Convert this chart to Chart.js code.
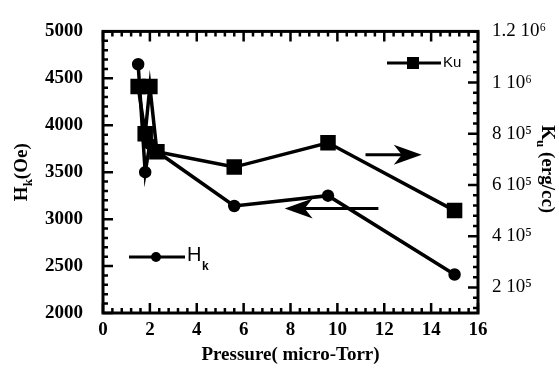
<!DOCTYPE html>
<html>
<head>
<meta charset="utf-8">
<script src="https://cdn.jsdelivr.net/npm/chart.js@4.4.0/dist/chart.umd.min.js"></script>
<style>
  html, body { margin: 0; padding: 0; background: #fff; }
</style>
</head>
<body>
<canvas id="chart" width="559" height="372"></canvas>
<script>
// data
var pressureHk = [1.5, 1.8, 2.0, 2.3, 5.6, 9.6, 15];
var hkValues   = [4650, 3500, 3800, 3720, 3140, 3250, 2410];
var pressureKu = [1.5, 1.8, 2.0, 2.3, 5.6, 9.6, 15];
var kuValues   = [985000, 800000, 985000, 730000, 670000, 765000, 500000];

var xTicks      = [0, 2, 4, 6, 8, 10, 12, 14, 16];
var hkTicks     = [2000, 2500, 3000, 3500, 4000, 4500, 5000];
var kuTicks     = [200000, 400000, 600000, 800000, 1000000, 1200000];
var kuTickLabels = ['2 10\u2075', '4 10\u2075', '6 10\u2075', '8 10\u2075', '1 10\u2076', '1.2 10\u2076'];

var serif = '"Liberation Serif", "Times New Roman", serif';
var sans = '"Liberation Sans", Arial, sans-serif';

function pts(xs, ys) {
  return xs.map(function (x, i) { return { x: x, y: ys[i] }; });
}
function setTicks(values) {
  return function (scale) { scale.ticks = values.map(function (v) { return { value: v }; }); };
}

// frame, inward ticks, arrows, legends, y titles
var decor = {
  id: 'decor',
  afterDraw: function (chart) {
    var ctx = chart.ctx, a = chart.chartArea;
    var sx = chart.scales.x, sy = chart.scales.y, sk = chart.scales.y2;
    ctx.save();
    ctx.strokeStyle = '#000';
    ctx.fillStyle = '#000';
    ctx.lineCap = 'butt';

    // ticks
    ctx.lineWidth = 2.5;
    ctx.beginPath();
    var v, p, major;
    for (v = 0; v <= 16.001; v += 0.4) {
      p = sx.getPixelForValue(v);
      major = Math.abs(v / 2 - Math.round(v / 2)) < 0.01;
      var l = major ? 10 : 5;
      ctx.moveTo(p, a.bottom); ctx.lineTo(p, a.bottom - l);
      ctx.moveTo(p, a.top); ctx.lineTo(p, a.top + l);
    }
    for (v = 2000; v <= 5000; v += 100) {
      p = sy.getPixelForValue(v);
      ctx.moveTo(a.left, p); ctx.lineTo(a.left + (v % 500 === 0 ? 10 : 5), p);
    }
    for (v = 120000; v <= 1200000; v += 40000) {
      p = sk.getPixelForValue(v);
      ctx.moveTo(a.right, p); ctx.lineTo(a.right - (v % 200000 === 0 ? 10 : 5), p);
    }
    ctx.stroke();

    // frame
    ctx.lineWidth = 3;
    ctx.strokeRect(a.left, a.top, a.right - a.left, a.bottom - a.top);

    // arrows
    function arrow(x0, x1, yv) {
      var y = sy.getPixelForValue(yv);
      var p0 = sx.getPixelForValue(x0), p1 = sx.getPixelForValue(x1);
      var dir = p1 > p0 ? 1 : -1;
      ctx.lineWidth = 3;
      ctx.beginPath();
      ctx.moveTo(p0, y); ctx.lineTo(p1 - dir * 10, y);
      ctx.stroke();
      ctx.beginPath();
      ctx.moveTo(p1, y);
      ctx.lineTo(p1 - dir * 28, y - 10);
      ctx.lineTo(p1 - dir * 20, y);
      ctx.lineTo(p1 - dir * 28, y + 10);
      ctx.closePath();
      ctx.fill();
    }
    arrow(11.2, 13.6, 3687);
    arrow(11.75, 7.75, 3114);

    // legend Ku
    ctx.lineWidth = 3;
    ctx.beginPath();
    ctx.moveTo(a.left + 284, 63); ctx.lineTo(a.left + 338, 63);
    ctx.stroke();
    ctx.fillRect(a.left + 304, 57, 12, 12);
    ctx.font = '15px ' + sans;
    ctx.textBaseline = 'middle';
    ctx.textAlign = 'left';
    ctx.fillText('Ku', a.left + 340, 63);

    // legend Hk
    ctx.beginPath();
    ctx.moveTo(a.left + 26, 257); ctx.lineTo(a.left + 82, 257);
    ctx.stroke();
    ctx.beginPath();
    ctx.arc(a.left + 53, 257, 5, 0, Math.PI * 2);
    ctx.fill();
    ctx.font = '20px ' + sans;
    ctx.fillText('H', a.left + 84, 255);
    ctx.font = 'bold 12px ' + sans;
    ctx.fillText('k', a.left + 99, 267);

    // left title H_k(Oe)
    var cy = (a.top + a.bottom) / 2;
    ctx.save();
    ctx.translate(22, cy);
    ctx.rotate(-Math.PI / 2);
    ctx.textBaseline = 'middle';
    ctx.font = 'bold 19px ' + serif;
    var w1 = ctx.measureText('H').width;
    ctx.font = 'bold 13px ' + serif;
    var w2 = ctx.measureText('k').width;
    ctx.font = 'bold 19px ' + serif;
    var w3 = ctx.measureText('(Oe)').width;
    var x0 = -(w1 + w2 + w3) / 2;
    ctx.textAlign = 'left';
    ctx.fillText('H', x0, 0);
    ctx.font = 'bold 13px ' + serif;
    ctx.fillText('k', x0 + w1, 7);
    ctx.font = 'bold 19px ' + serif;
    ctx.fillText('(Oe)', x0 + w1 + w2, 0);
    ctx.restore();

    // right title K_u (erg/cc)
    ctx.save();
    ctx.translate(547, cy - 3);
    ctx.rotate(Math.PI / 2);
    ctx.textBaseline = 'middle';
    ctx.font = 'bold 19px ' + serif;
    var k1 = ctx.measureText('K').width;
    ctx.font = 'bold 13px ' + serif;
    var k2 = ctx.measureText('u').width;
    ctx.font = 'bold 19px ' + serif;
    var k3 = ctx.measureText(' (erg/cc)').width;
    var s0 = -(k1 + k2 + k3) / 2;
    ctx.textAlign = 'left';
    ctx.fillText('K', s0, 0);
    ctx.font = 'bold 13px ' + serif;
    ctx.fillText('u', s0 + k1, 7);
    ctx.font = 'bold 19px ' + serif;
    ctx.fillText(' (erg/cc)', s0 + k1 + k2, 0);
    ctx.restore();

    ctx.restore();
  }
};

var ctx = document.getElementById('chart');
var chart = new Chart(ctx, {
  type: 'line',
  plugins: [decor],
  data: {
    datasets: [{
      label: 'Hk',
      data: pts(pressureHk, hkValues),
      yAxisID: 'y',
      borderColor: '#000',
      backgroundColor: '#000',
      borderWidth: 3.5,
      pointStyle: 'circle',
      pointRadius: 4.5,
      tension: 0
    }, {
      label: 'Ku',
      data: pts(pressureKu, kuValues),
      yAxisID: 'y2',
      borderColor: '#000',
      backgroundColor: '#000',
      borderWidth: 3.5,
      pointStyle: 'rect',
      pointRadius: 8.5,
      tension: 0
    }]
  },
  options: {
    responsive: false,
    animation: false,
    devicePixelRatio: 1,
    layout: { padding: { top: 25, left: 0, right: 0, bottom: 6 } },
    plugins: { legend: { display: false }, tooltip: { enabled: false } },
    scales: {
      x: {
        type: 'linear', min: 0, max: 16,
        afterBuildTicks: setTicks(xTicks),
        afterFit: function (s) { s.height = 53; },
        grid: { display: false, drawTicks: false },
        border: { display: false },
        ticks: { color: '#000', padding: 6, maxRotation: 0, font: { family: serif, size: 19, weight: 'bold' },
                 callback: function (val) { return String(val); } },
        title: { display: true, text: 'Pressure( micro-Torr)', color: '#000', padding: { top: 0, bottom: 0 },
                 font: { family: serif, size: 19, weight: 'bold' } }
      },
      y: {
        type: 'linear', position: 'left', min: 2000, max: 5000,
        afterBuildTicks: setTicks(hkTicks),
        afterFit: function (s) { s.width = 103; },
        grid: { display: false, drawTicks: false },
        border: { display: false },
        ticks: { color: '#000', padding: 20, font: { family: serif, size: 19, weight: 'bold' },
                 callback: function (val) { return String(val); } }
      },
      y2: {
        type: 'linear', position: 'right', min: 100000, max: 1200000,
        afterBuildTicks: setTicks(kuTicks),
        afterFit: function (s) { s.width = 81; },
        grid: { display: false, drawTicks: false },
        border: { display: false },
        ticks: {
          color: '#000', padding: 14, font: { family: serif, size: 19 },
          callback: function (val) { return kuTickLabels[kuTicks.indexOf(val)]; }
        }
      }
    }
  }
});
</script>
</body>
</html>
